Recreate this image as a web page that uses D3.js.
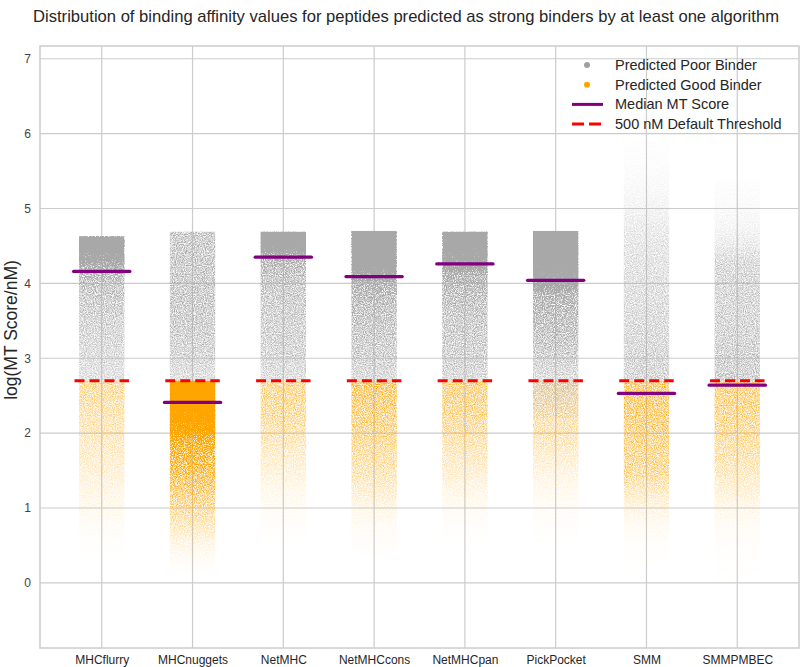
<!DOCTYPE html>
<html>
<head>
<meta charset="utf-8">
<script src="https://cdn.jsdelivr.net/npm/d3@7"></script>
<style>
  html, body { margin: 0; padding: 0; background: #fff; }
  svg { display: block; font-family: "Liberation Sans", Arial, sans-serif; }
</style>
</head>
<body>
<svg id="chart" width="800" height="667"></svg>
<script>
// ---------------- data ----------------
const categories = ["MHCflurry", "MHCnuggets", "NetMHC", "NetMHCcons", "NetMHCpan", "PickPocket", "SMM", "SMMPMBEC"];
const medianScores = [4.16, 2.41, 4.35, 4.09, 4.26, 4.04, 2.53, 2.64];
const thresholdNM = 500;
const maxScores = [4.63, 4.69, 4.69, 4.70, 4.69, 4.70, 5.90, 5.40];     // top of each strip
const poorMinScores = [2.70, 2.70, 2.70, 2.70, 2.70, 2.20, 2.70, 2.70]; // lowest poor binder
const goodMinScores = [0.30, 0.15, 0.40, 0.35, 0.40, 0.40, 0.20, 0.00]; // lowest good binder
const yTicks = [0, 1, 2, 3, 4, 5, 6, 7];
// density profile levels (log MT score)
const densityLevels = [0, 0.25, 0.5, 0.75, 1, 1.25, 1.5, 1.75, 2, 2.25, 2.5, 2.75, 3, 3.25, 3.5, 3.75, 4, 4.25, 4.5, 4.75, 5, 5.25, 5.5, 5.75, 6];
// relative point density of predicted poor binders (grey), one row per algorithm
const poorDensity = [
  [0, 0, 0, 0, 0, 0, 0, 0, 0, 0, 0.28, 0.30, 0.34, 0.38, 0.42, 0.47, 0.55, 0.85, 1, 1, 1, 0, 0, 0, 0],
  [0, 0, 0, 0, 0, 0, 0, 0, 0, 0, 0.30, 0.32, 0.40, 0.45, 0.48, 0.50, 0.50, 0.50, 0.50, 0.50, 0.5, 0, 0, 0, 0],
  [0, 0, 0, 0, 0, 0, 0, 0, 0, 0, 0.30, 0.32, 0.40, 0.43, 0.45, 0.48, 0.52, 0.65, 1, 1, 1, 0, 0, 0, 0],
  [0, 0, 0, 0, 0, 0, 0, 0, 0, 0, 0.35, 0.37, 0.45, 0.50, 0.55, 0.62, 0.80, 1, 1, 1, 1, 0, 0, 0, 0],
  [0, 0, 0, 0, 0, 0, 0, 0, 0, 0, 0.35, 0.37, 0.45, 0.47, 0.50, 0.56, 0.70, 0.90, 1, 1, 1, 0, 0, 0, 0],
  [0, 0, 0, 0, 0, 0, 0, 0, 0, 0.10, 0.22, 0.34, 0.45, 0.55, 0.62, 0.70, 0.90, 1, 1, 1, 1, 0, 0, 0, 0],
  [0, 0, 0, 0, 0, 0, 0, 0, 0, 0, 0.40, 0.40, 0.40, 0.38, 0.36, 0.33, 0.31, 0.29, 0.26, 0.20, 0.12, 0.07, 0.04, 0.02, 0],
  [0, 0, 0, 0, 0, 0, 0, 0, 0, 0, 0.46, 0.46, 0.46, 0.43, 0.40, 0.40, 0.40, 0.38, 0.22, 0.10, 0.06, 0.03, 0, 0, 0]
];
// relative point density of predicted good binders (orange)
const goodDensity = [
  [0, 0, 0.01, 0.03, 0.06, 0.10, 0.14, 0.18, 0.22, 0.26, 0.30, 0.32, 0, 0, 0, 0, 0, 0, 0, 0, 0, 0, 0, 0, 0],
  [0, 0.02, 0.08, 0.20, 0.32, 0.45, 0.58, 0.70, 0.85, 0.95, 1, 1, 0, 0, 0, 0, 0, 0, 0, 0, 0, 0, 0, 0, 0],
  [0, 0, 0.004, 0.015, 0.035, 0.07, 0.13, 0.18, 0.25, 0.32, 0.35, 0.35, 0, 0, 0, 0, 0, 0, 0, 0, 0, 0, 0, 0, 0],
  [0, 0, 0.015, 0.035, 0.08, 0.17, 0.25, 0.30, 0.36, 0.40, 0.46, 0.50, 0, 0, 0, 0, 0, 0, 0, 0, 0, 0, 0, 0, 0],
  [0, 0, 0.004, 0.015, 0.04, 0.09, 0.16, 0.22, 0.28, 0.35, 0.39, 0.39, 0, 0, 0, 0, 0, 0, 0, 0, 0, 0, 0, 0, 0],
  [0, 0, 0.004, 0.015, 0.03, 0.06, 0.11, 0.18, 0.25, 0.27, 0.25, 0.25, 0, 0, 0, 0, 0, 0, 0, 0, 0, 0, 0, 0, 0],
  [0, 0.004, 0.015, 0.04, 0.10, 0.21, 0.35, 0.36, 0.40, 0.44, 0.45, 0.45, 0, 0, 0, 0, 0, 0, 0, 0, 0, 0, 0, 0, 0],
  [0.004, 0.008, 0.015, 0.035, 0.07, 0.14, 0.21, 0.28, 0.32, 0.36, 0.40, 0.40, 0, 0, 0, 0, 0, 0, 0, 0, 0, 0, 0, 0, 0]
];
const legendLabels = ["Predicted Poor Binder", "Predicted Good Binder", "Median MT Score", "500 nM Default Threshold"];
const titleText = "Distribution of binding affinity values for peptides predicted as strong binders by at least one algorithm";
const yLabelText = "log(MT Score/nM)";

// ---------------- style ----------------
const poorColor = "#a8a8a8";
const goodColor = "#ffa500";
const medianColor = "#800080";
const thresholdColor = "#ff0000";
const gridColor = "#cccccc";
const textColor = "#262626";

const svg = d3.select("#chart");
const plot = { left: 40, right: 799, top: 46, bottom: 648 };

const x = d3.scaleLinear().domain([-0.68, 7.68]).range([plot.left, plot.right]);
const y = d3.scaleLinear().domain([-0.87, 7.17]).range([plot.bottom, plot.top]);
const threshold = Math.log10(thresholdNM);
const stripHalf = 0.25, lineHalf = 0.31;

// ---------- filter that turns smooth density into a speckled scatter ----------
const defs = svg.append("defs");
const flt = defs.append("filter").attr("id", "grain")
  .attr("x", 0).attr("y", 0).attr("width", 1).attr("height", 1)
  .attr("color-interpolation-filters", "sRGB");
flt.append("feTurbulence").attr("type", "fractalNoise").attr("baseFrequency", 0.9)
  .attr("numOctaves", 2).attr("seed", 5).attr("result", "noise");
flt.append("feColorMatrix").attr("in", "noise").attr("type", "matrix")
  .attr("values", "0 0 0 0 0  0 0 0 0 0  0 0 0 0 0  1 0 0 0 0").attr("result", "na");
flt.append("feComposite").attr("in", "SourceAlpha").attr("in2", "na").attr("operator", "arithmetic")
  .attr("k1", 4).attr("k2", -1).attr("k3", 0).attr("k4", 0).attr("result", "speck");
const ct = flt.append("feComponentTransfer").attr("in", "SourceAlpha").attr("result", "solid");
ct.append("feFuncA").attr("type", "linear").attr("slope", 5).attr("intercept", -4);
flt.append("feComposite").attr("in", "speck").attr("in2", "solid").attr("operator", "arithmetic")
  .attr("k1", 0).attr("k2", 1).attr("k3", 1).attr("k4", 0).attr("result", "mask");
flt.append("feColorMatrix").attr("in", "SourceGraphic").attr("type", "matrix")
  .attr("values", "1 0 0 0 0  0 1 0 0 0  0 0 1 0 0  0 0 0 255 0").attr("result", "opaque");
flt.append("feComposite").attr("in", "opaque").attr("in2", "mask").attr("operator", "in");

// gradients built from density profiles (stops from top level down to level 0)
function makeGradient(id, color, dens) {
  const yTop = y(densityLevels[densityLevels.length - 1]), yBot = y(densityLevels[0]);
  const g = defs.append("linearGradient").attr("id", id)
    .attr("gradientUnits", "userSpaceOnUse")
    .attr("x1", 0).attr("x2", 0).attr("y1", yTop).attr("y2", yBot);
  for (let k = densityLevels.length - 1; k >= 0; k--) {
    g.append("stop").attr("offset", (y(densityLevels[k]) - yTop) / (yBot - yTop))
      .attr("stop-color", color).attr("stop-opacity", dens[k]);
  }
}
categories.forEach((c, i) => {
  makeGradient("poor" + i, poorColor, poorDensity[i]);
  makeGradient("good" + i, goodColor, goodDensity[i]);
});

// ---------------- grid & frame ----------------
const grid = svg.append("g");
grid.selectAll("line.h").data(yTicks).join("line")
  .attr("x1", plot.left).attr("x2", plot.right)
  .attr("y1", d => y(d)).attr("y2", d => y(d))
  .attr("stroke", gridColor).attr("stroke-width", 1.2);
grid.selectAll("line.v").data(categories).join("line")
  .attr("x1", (d, i) => x(i)).attr("x2", (d, i) => x(i))
  .attr("y1", plot.top).attr("y2", plot.bottom)
  .attr("stroke", gridColor).attr("stroke-width", 1.2);
svg.append("rect").attr("x", plot.left).attr("y", plot.top)
  .attr("width", plot.right - plot.left).attr("height", plot.bottom - plot.top)
  .attr("fill", "none").attr("stroke", gridColor).attr("stroke-width", 1.5);

// ---------------- strips ----------------
const strips = svg.append("g");
categories.forEach((c, i) => {
  strips.append("rect")
    .attr("x", x(i - stripHalf)).attr("width", x(i + stripHalf) - x(i - stripHalf))
    .attr("y", y(threshold)).attr("height", y(goodMinScores[i]) - y(threshold))
    .attr("fill", `url(#good${i})`).attr("filter", "url(#grain)");
});
categories.forEach((c, i) => {
  strips.append("rect")
    .attr("x", x(i - stripHalf)).attr("width", x(i + stripHalf) - x(i - stripHalf))
    .attr("y", y(maxScores[i])).attr("height", y(poorMinScores[i]) - y(maxScores[i]))
    .attr("fill", `url(#poor${i})`).attr("filter", "url(#grain)");
});

// ---------------- median & threshold ----------------
svg.append("g").selectAll("line").data(medianScores).join("line")
  .attr("x1", (d, i) => x(i - lineHalf)).attr("x2", (d, i) => x(i + lineHalf))
  .attr("y1", d => y(d)).attr("y2", d => y(d))
  .attr("stroke", medianColor).attr("stroke-width", 3.2).attr("stroke-linecap", "round");
svg.append("g").selectAll("line").data(categories).join("line")
  .attr("x1", (d, i) => x(i - 0.3)).attr("x2", (d, i) => x(i + 0.3))
  .attr("y1", y(threshold)).attr("y2", y(threshold))
  .attr("stroke", thresholdColor).attr("stroke-width", 3.2).attr("stroke-dasharray", "10,5");

// ---------------- axes ----------------
const yAxis = svg.append("g").attr("transform", `translate(${plot.left},0)`)
  .call(d3.axisLeft(y).tickValues(yTicks).tickSize(0).tickPadding(9).tickFormat(d3.format("d")));
yAxis.select(".domain").remove();
yAxis.selectAll("text").attr("font-size", 12).attr("fill", "#444").attr("font-family", "Liberation Sans, Arial, sans-serif");

const xAxis = svg.append("g").attr("transform", `translate(0,${plot.bottom})`)
  .call(d3.axisBottom(x).tickValues(d3.range(categories.length)).tickSize(0).tickPadding(7)
    .tickFormat(i => categories[i]));
xAxis.select(".domain").remove();
xAxis.selectAll("text").attr("font-size", 12).attr("fill", textColor).attr("font-family", "Liberation Sans, Arial, sans-serif");

// title & y label
svg.append("text").attr("x", 406).attr("y", 22).attr("text-anchor", "middle")
  .attr("font-size", 16.6).attr("fill", textColor).text(titleText);
svg.append("text").attr("transform", "translate(17,330) rotate(-90)").attr("text-anchor", "middle")
  .attr("font-size", 17.5).attr("fill", textColor).text(yLabelText);

// ---------------- legend ----------------
const lg = svg.append("g");
const lgX = 587, lgY0 = 65, lgDy = 19.7;
lg.append("circle").attr("cx", lgX).attr("cy", lgY0).attr("r", 3).attr("fill", "#a0a0a0");
lg.append("circle").attr("cx", lgX).attr("cy", lgY0 + lgDy).attr("r", 3).attr("fill", goodColor);
lg.append("line").attr("x1", lgX - 15).attr("x2", lgX + 16).attr("y1", lgY0 + 2 * lgDy).attr("y2", lgY0 + 2 * lgDy)
  .attr("stroke", medianColor).attr("stroke-width", 3);
lg.append("line").attr("x1", lgX - 15).attr("x2", lgX + 16).attr("y1", lgY0 + 3 * lgDy).attr("y2", lgY0 + 3 * lgDy)
  .attr("stroke", thresholdColor).attr("stroke-width", 3).attr("stroke-dasharray", "12,5");
lg.selectAll("text").data(legendLabels).join("text")
  .attr("x", 615).attr("y", (d, i) => lgY0 + i * lgDy).attr("dy", "0.35em")
  .attr("font-size", 14.5).attr("fill", textColor).text(d => d);
</script>
</body>
</html>
